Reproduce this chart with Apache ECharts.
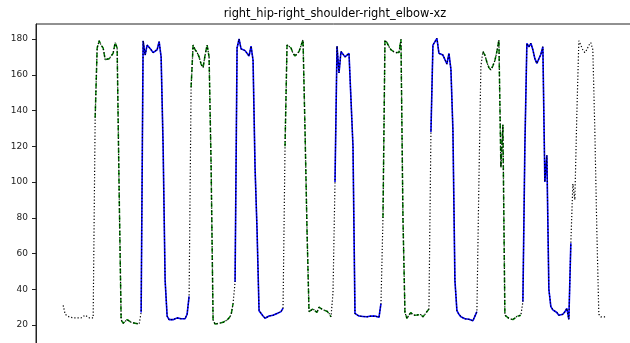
<!DOCTYPE html>
<html>
<head>
<meta charset="utf-8">
<script src="https://cdn.jsdelivr.net/npm/echarts@6/dist/echarts.min.js"></script>
<style>
  html, body { margin: 0; padding: 0; background: #fff; overflow: hidden; }
  #chart { width: 630px; height: 343px; }
</style>
</head>
<body>
<div id="chart"></div>
<script>
const chartTitle = 'right_hip-right_shoulder-right_elbow-xz';

// angle per frame (frame index = position in array)
const values = [
  31, 26, 25, 24.5, 24, 24, 23.5, 24, 23.8, 24, 24.5, 25.5, 24.5, 24, 23.5, 24,
  136, 175, 179, 176.5, 175, 168.5, 168.5, 169, 169.5, 172, 178, 175, 95, 22.8, 21, 22, 23, 22.5, 21.5, 22.5, 21, 20.8, 20.5,
  27,
  179, 171, 176.6, 176, 174, 172.4, 172.5, 174, 178.5, 170, 120, 45, 25, 23, 22.8, 23, 23.6, 24, 24.6, 23.5, 23, 23.5, 26, 36,
  153, 176.6, 174, 172.5, 170, 166, 164, 171, 176.6, 170, 110, 22.8, 20.5, 20.8, 21, 21, 21.5, 22, 22.8, 24, 25.6, 32,
  44, 175, 180, 174.5, 173.8, 173.5, 173, 170.5, 176, 168, 108, 73, 28, 27.7, 25, 23.8, 24, 25, 25.3, 25.5, 25, 26.5, 26, 27.5, 29.5,
  120, 176.6, 176, 175, 172, 170.5, 171, 173, 172, 179.5, 129, 73, 27.5, 26.7, 29, 28, 27, 30, 30, 28.5, 28.5, 27.7, 26.5, 24.6,
  38,
  100, 176, 161, 173, 172.5, 170, 171, 172, 172.6, 120, 26.5, 25.6, 25, 24.6, 24.8, 25, 24.6, 24.5, 25, 26, 25, 24.5, 24.3, 32,
  80, 179.4, 178, 175.7, 174, 173, 172.4, 172, 172.4, 179.8, 80, 27, 23.7, 25.6, 27, 25.5, 26, 25.6, 26.7, 25.8, 24.6, 26, 25.5, 29,
  128, 176.6, 176, 180.4, 172, 173, 171, 171.5, 166, 172, 163, 129, 45, 28, 26, 24.6, 23.8, 23.5, 23.2, 23.2, 23, 22.4, 22.6, 27.5,
  100, 165,
  173, 171, 167, 164, 162.7, 165, 168, 173, 179.4, 108, 132, 25.5, 24.5, 23.7, 24.5, 23, 24, 24.8, 25, 25.5,
  33, 120, 177.6, 175.6, 177.6, 174, 169, 166.4, 167, 171.5, 175.7, 100, 115, 40, 30.3, 28.5, 27.8, 27, 25.5, 25.3, 26, 27.4, 29.3, 23.2, 65.7,
  99, 90, 138, 179, 176.5, 174, 172.4, 174, 176.5, 178, 174, 129, 73, 26, 24.6, 25.5, 24.6, 24.6
];

// frame ranges drawn in colour on top of the dotted trace
const greenSegments = [[16, 38], [64, 85], [111, 134], [160, 183], [210, 229]];
const blueSegments = [[39, 63], [86, 110], [136, 159], [184, 207], [230, 254]];

const lastFrame = values.length - 1;
const pad = lastFrame * 0.05;

const inRanges = (i, ranges) => ranges.some(([a, b]) => i >= a && i <= b);
const pick = (ranges) => values.map((v, i) => [i, inRanges(i, ranges) ? v : '-']);

const chart = echarts.init(document.getElementById('chart'), null, { renderer: 'canvas' });

const option = {
  animation: false,
  backgroundColor: '#fff',
  title: {
    text: chartTitle,
    left: 335,
    top: 9,
    padding: 0,
    textAlign: 'center',
    textStyle: { fontFamily: 'DejaVu Sans', fontSize: 11.4, fontWeight: 'normal', color: '#000' }
  },
  grid: {
    left: 36,
    top: 24,
    width: 598,
    height: 188.4 * 1.7875,
    outerBoundsMode: 'none',
    containLabel: false,
    show: true,
    borderColor: '#222',
    borderWidth: 1,
    backgroundColor: 'transparent'
  },
  xAxis: {
    type: 'value',
    min: -pad,
    max: lastFrame + pad,
    show: false
  },
  yAxis: {
    type: 'value',
    min: 0,
    max: 188.4,
    interval: 20,
    splitLine: { show: false },
    axisLine: { show: true, onZero: false, lineStyle: { color: '#222', width: 1 } },
    axisTick: { show: true, length: 4, lineStyle: { color: '#222' } },
    axisLabel: { margin: 8, showMaxLabel: false, fontFamily: 'DejaVu Sans', fontSize: 9, color: '#222' }
  },
  series: [
    {
      type: 'line',
      data: pick(greenSegments),
      showSymbol: false,
      connectNulls: false,
      z: 2,
      lineStyle: { color: '#008000', width: 1.5, type: [5, 2.5] }
    },
    {
      type: 'line',
      data: pick(blueSegments),
      showSymbol: false,
      connectNulls: false,
      z: 2,
      lineStyle: { color: '#0000ff', width: 1.6, type: 'solid' }
    },
    {
      type: 'line',
      data: values.map((v, i) => [i, v]),
      showSymbol: false,
      z: 3,
      lineStyle: { color: '#000', width: 1.2, type: [1.2, 2] }
    }
  ]
};

chart.setOption(option);
</script>
</body>
</html>
